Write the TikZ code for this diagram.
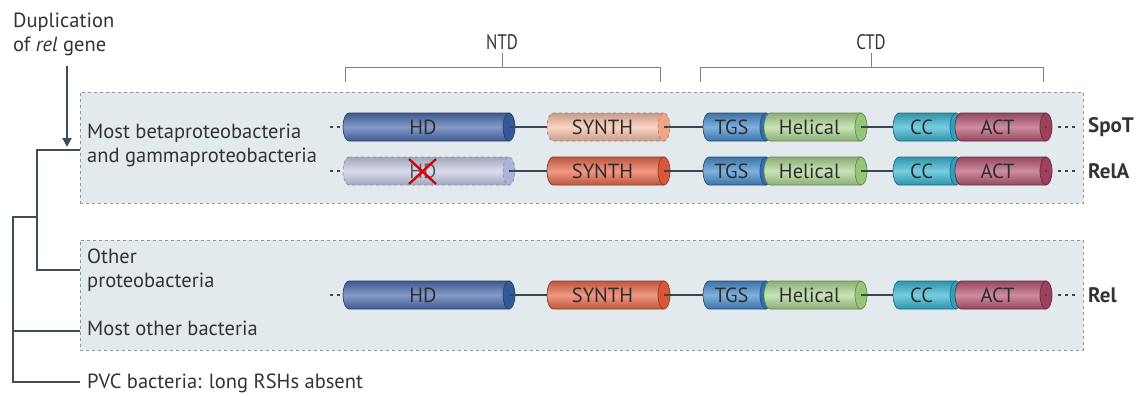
\documentclass[tikz,border=0pt]{standalone}
\usepackage{fontspec}
\setmainfont{PT Sans}
\usetikzlibrary{arrows.meta}
\definecolor{txtc}{HTML}{333333}
\definecolor{treec}{HTML}{3D4F5C}
\definecolor{boxfill}{HTML}{E3EAED}
\definecolor{boxdraw}{HTML}{8A9AA0}
\definecolor{brk}{HTML}{808080}
\definecolor{linkc}{HTML}{3D4550}
\definecolor{hdC}{HTML}{4F70B2}\definecolor{hdK}{HTML}{34599A}\definecolor{hdB}{HTML}{2B3F6B}
\definecolor{hfC}{HTML}{C9CFE8}\definecolor{hfK}{HTML}{AAB3D8}\definecolor{hfB}{HTML}{8A90A8}
\definecolor{sfC}{HTML}{F8C2AA}\definecolor{sfK}{HTML}{F2A383}\definecolor{sfB}{HTML}{B08070}
\definecolor{syC}{HTML}{EA6C4E}\definecolor{syK}{HTML}{DC5535}\definecolor{syB}{HTML}{8F3A25}
\definecolor{tgC}{HTML}{4A8FD0}\definecolor{tgK}{HTML}{2F6FB5}\definecolor{tgB}{HTML}{24507F}
\definecolor{heC}{HTML}{B0D896}\definecolor{heK}{HTML}{95C676}\definecolor{heB}{HTML}{5F8A4A}
\definecolor{ccC}{HTML}{3CB8D4}\definecolor{ccK}{HTML}{2AA0BD}\definecolor{ccB}{HTML}{1E6F85}
\definecolor{acC}{HTML}{B85B75}\definecolor{acK}{HTML}{9D405A}\definecolor{acB}{HTML}{6A2A3C}
\newcommand{\cyl}[9]{%
  % #1 name, #2 x1, #3 x2, #4 y (pixel), #5 body col, #6 cap col, #7 border col, #8 text, #9 extra style
  \pgfmathsetmacro{\cxl}{#2+6}\pgfmathsetmacro{\cxr}{#3-6}\pgfmathsetmacro{\cyc}{-#4}%
  \pgfmathsetmacro{\cyt}{\cyc+14}\pgfmathsetmacro{\cyb}{\cyc-14}%
  \pgfmathsetmacro{\cxm}{(#2+\cxr-6)/2}\pgfmathsetmacro{\cxn}{(#2+#3)/2}%
  \path[draw=#7, line width=0.7pt, top color=#5!80!black, bottom color=#5!80!black, middle color=#5!70!white, #9]
    (\cxl,\cyt) -- (\cxr,\cyt) -- (\cxr,\cyb) -- (\cxl,\cyb)
    arc[start angle=270, end angle=90, x radius=6, y radius=14] -- cycle;
  \path[draw=#7, line width=0.7pt, fill=#6, #9] (\cxr,\cyc) ellipse[x radius=6, y radius=14];
  \node[shape=rectangle, inner sep=0pt, minimum width={#3-#2}, minimum height=28] (#1) at (\cxn,\cyc) {};
  \node[dom] (#1t) at (\cxm,\cyc) {#8};
  \coordinate (#1c) at (\cxr,\cyc);
}
\tikzset{
  txt/.style={text=txtc, font=\fontsize{20.5}{24}\selectfont, inner sep=0pt, align=left},
  dom/.style={text=txtc!90!black, font=\fontsize{20.5}{22}\selectfont, inner sep=0pt},
  prot/.style={text=txtc, font=\bfseries\fontsize{21}{22}\selectfont, inner sep=0pt, anchor=west},
  hdr/.style={text=txtc, font=\fontsize{21}{24}\selectfont, inner sep=0pt},
  tree/.style={draw=treec, line width=2pt},
  brack/.style={draw=brk, line width=0.9pt},
  linker/.style={draw=linkc, line width=2pt},
  dotsl/.style={draw=linkc, line width=2pt, dash pattern=on 2.5pt off 4.5pt},
  regbox/.style={draw=boxdraw, fill=boxfill, dashed, line width=0.7pt, inner sep=0pt},
  dashd/.style={dashed}
}
\begin{document}
\begin{tikzpicture}[x=1pt,y=1pt]
\useasboundingbox (0,0) rectangle (1139,-396);
% region boxes
\node[regbox, minimum width=1003, minimum height=111] (box1) at (581.5,-147.5) {};
\node[regbox, minimum width=1003, minimum height=110] (box2) at (581.5,-295) {};
% headers
\node[hdr] (ntd) at (502,-42) {\scalebox{0.8}[1]{NTD}};
\node[hdr] (ctd) at (871,-42) {\scalebox{0.8}[1]{CTD}};
\draw[brack] (345,-82) -- (345,-67) -- (660,-67) -- (660,-82);
\draw[brack] (ntd.south) ++(0,-3) -- (502,-67);
\draw[brack] (700,-82) -- (700,-67) -- (1043,-67) -- (1043,-82);
\draw[brack] (ctd.south) ++(0,-3) -- (871,-67);
% tree texts
\node[txt, anchor=north west] (dup) at (13,-13) {Duplication\\of \textit{rel} gene};
\node[txt, anchor=west] (g1) at (87,-145) {Most betaproteobacteria\\and gammaproteobacteria};
\node[txt, anchor=west] (g2) at (87,-270) {Other\\proteobacteria};
\node[txt, anchor=west] (g3) at (87,-328) {Most other bacteria};
\node[txt, anchor=west] (g4) at (87,-383) {PVC bacteria: long RSHs absent};
% tree
\coordinate (a1) at (67,-66);
\coordinate (a2) at (67,-147);
\coordinate (t1) at (37,-150); \coordinate (b1) at (80,-150);
\coordinate (t2) at (37,-270); \coordinate (b2) at (80,-270);
\coordinate (t3) at (13,-217); \coordinate (t4) at (37,-217);
\coordinate (t5) at (13,-331); \coordinate (b5) at (80,-331);
\coordinate (t6) at (13,-382); \coordinate (b6) at (80,-382);
\draw[tree, -{Triangle[length=9pt,width=9pt]}] (a1) -- (a2);
\draw[tree] (b1) -- (t1) -- (t2) -- (b2);
\draw[tree] (t4) -- (t3) -- (t6) -- (b6);
\draw[tree] (t5) -- (b5);
% dots
\foreach \r/\yy in {1/127,2/171,3/295}{
  \coordinate (ld\r) at (330,-\yy);
  \coordinate (rd\r) at (1058,-\yy);
  \coordinate (re\r) at (1075,-\yy);
}
\draw[dotsl] (ld1) -- (343,-127);
\draw[dotsl] (ld2) -- (343,-171);
\draw[dotsl] (ld3) -- (343,-295);
% row 1 SpoT
\cyl{hda}{343}{515}{127}{hdC}{hdK}{hdB}{HD}{}
\cyl{sya}{547}{670}{127}{sfC}{sfK}{sfB}{SYNTH}{dashd}
\cyl{tga}{703}{772}{127}{tgC}{tgK}{tgB}{TGS}{}
\cyl{hea}{764}{867}{127}{heC}{heK}{heB}{Helical}{}
\cyl{cca}{893}{962}{127}{ccC}{ccK}{ccB}{CC}{}
\cyl{aca}{955}{1052}{127}{acC}{acK}{acB}{ACT}{}
% row 2 RelA
\cyl{hdb}{343}{515}{171}{hfC}{hfK}{hfB}{\textcolor{txtc!80!white}{HD}}{dashd}
\cyl{syb}{547}{670}{171}{syC}{syK}{syB}{SYNTH}{}
\cyl{tgb}{703}{772}{171}{tgC}{tgK}{tgB}{TGS}{}
\cyl{heb}{764}{867}{171}{heC}{heK}{heB}{Helical}{}
\cyl{ccb}{893}{962}{171}{ccC}{ccK}{ccB}{CC}{}
\cyl{acb}{955}{1052}{171}{acC}{acK}{acB}{ACT}{}
% row 3 Rel
\cyl{hdc}{343}{515}{295}{hdC}{hdK}{hdB}{HD}{}
\cyl{syc}{547}{670}{295}{syC}{syK}{syB}{SYNTH}{}
\cyl{tgc}{703}{772}{295}{tgC}{tgK}{tgB}{TGS}{}
\cyl{hec}{764}{867}{295}{heC}{heK}{heB}{Helical}{}
\cyl{ccc}{893}{962}{295}{ccC}{ccK}{ccB}{CC}{}
\cyl{acc}{955}{1052}{295}{acC}{acK}{acB}{ACT}{}
% linkers
\foreach \r in {a,b,c}{
  \draw[linker] (hd\r c) -- (sy\r.west);
  \draw[linker] (sy\r c) -- (tg\r.west);
  \draw[linker] (he\r c) -- (cc\r.west);
  \fill[linkc] (ac\r c) circle (1.2);
}
\draw[dotsl] (rd1) -- (re1);
\draw[dotsl] (rd2) -- (re2);
\draw[dotsl] (rd3) -- (re3);
% red cross
\draw[red!85!black, line width=2.3pt] (hdbt.center) ++(-14,12) -- ++(27,-25);
\draw[red!85!black, line width=2.3pt] (hdbt.center) ++(13,12) -- ++(-27,-25);
% protein names
\node[prot] (spot) at (1088,-127) {SpoT};
\node[prot] (rela) at (1088,-171) {RelA};
\node[prot] (rel) at (1088,-295) {Rel};
\end{tikzpicture}
\end{document}
